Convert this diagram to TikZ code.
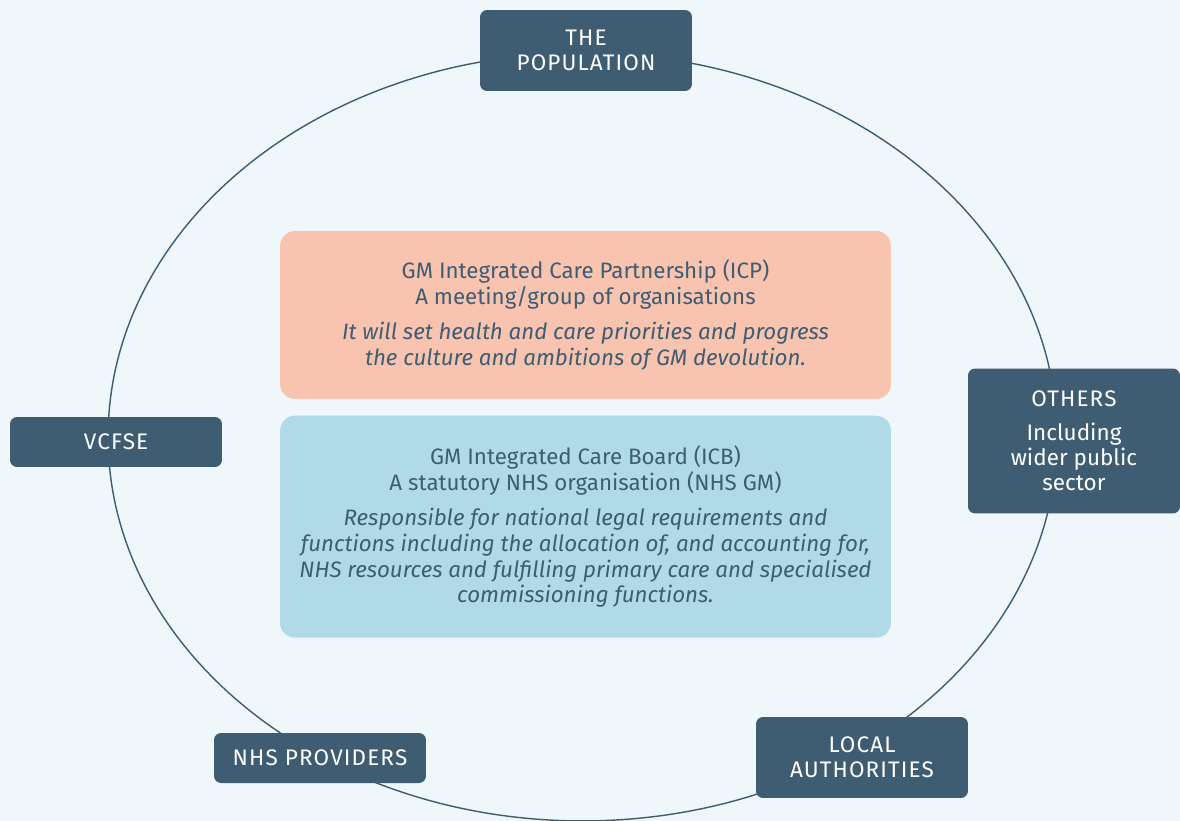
\documentclass[tikz,border=0pt]{standalone}
\usepackage{fontspec}
\setmainfont{Fira Sans}
\usetikzlibrary{positioning}
\definecolor{slate}{HTML}{3E5D73}
\definecolor{bgblue}{HTML}{EFF7FB}
\definecolor{peach}{HTML}{F8C3AF}
\definecolor{skyblue}{HTML}{B0DAE8}
\newcommand\spaced{\addfontfeature{LetterSpace=5}}
\tikzset{x=0.02cm,y=-0.02cm,
  member/.style={fill=slate, text=white, rounded corners=4pt, align=center,
    minimum width=4.24cm, inner sep=0pt, font=\fontsize{12.8}{14.2}\selectfont},
  body/.style={rounded corners=8.5pt, align=center, minimum width=12.22cm,
    text=slate, inner sep=0pt, font=\fontsize{12.7}{14.7}\selectfont}}

\begin{document}
\begin{tikzpicture}
\fill[bgblue] (0,0) rectangle (1180,821);
\useasboundingbox (0,0) rectangle (1180,821);
\draw[slate, line width=0.8pt] (582.5,437) ellipse [x radius=9.49cm, y radius=7.68cm];
\node[body, fill=peach, minimum height=3.36cm] (icp) at (585.5,315)
  {GM Integrated Care Partnership (ICP)\\A meeting/group of organisations\\[5.4pt]
   \itshape It will set health and care priorities and progress\\
   \itshape the culture and ambitions of GM devolution.};
\node[body, fill=skyblue, minimum height=4.44cm, below=0.32cm of icp] (icb)
  {GM Integrated Care Board (ICB)\\A statutory NHS organisation (NHS GM)\\[5.4pt]
   \itshape Responsible for national legal requirements and\\
   \itshape functions including the allocation of, and accounting for,\\
   \itshape NHS resources and fulfilling primary care and specialised\\
   \itshape commissioning functions.};
\node[member, minimum height=1.62cm] (pop) at (586,50.5) {\spaced THE\\\spaced POPULATION};
\node[member, minimum height=1cm] (vcfse) at (116,442) {\spaced VCFSE};
\node[member, minimum height=2.9cm] (others) at (1074,441)
  {\spaced OTHERS\\[5pt]Including\\wider public\\sector};
\node[member, minimum height=1cm] (nhsp) at (320,758) {\spaced NHS PROVIDERS};
\node[member, minimum height=1.62cm] (la) at (862,757.5) {\spaced LOCAL\\\spaced AUTHORITIES};
\end{tikzpicture}
\end{document}
